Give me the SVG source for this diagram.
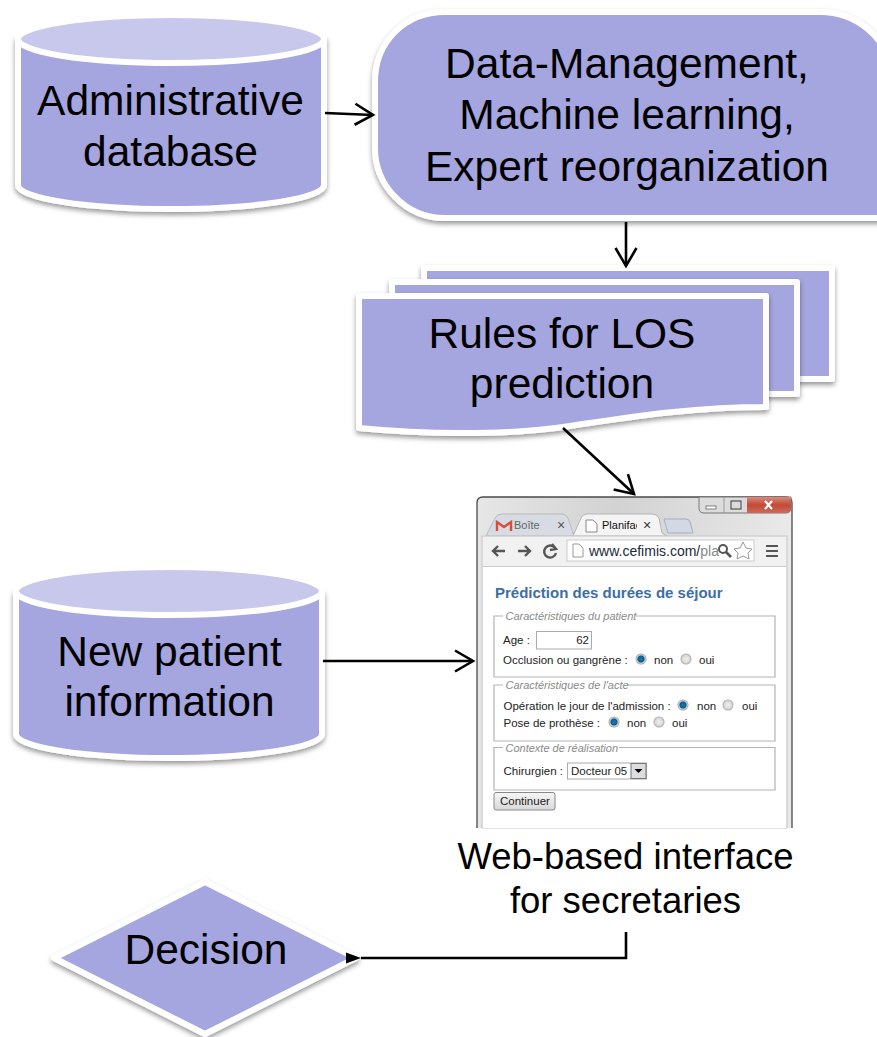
<svg xmlns="http://www.w3.org/2000/svg" width="877" height="1037" viewBox="0 0 877 1037">
<defs>
<filter id="sh" x="-10%" y="-10%" width="120%" height="125%"><feDropShadow dx="0" dy="3" stdDeviation="2.5" flood-color="#000" flood-opacity="0.4"/></filter>
<linearGradient id="chrome" x1="0" y1="0" x2="1" y2="0"><stop offset="0" stop-color="#e6e6e6"/><stop offset="0.45" stop-color="#d2d2d2"/><stop offset="1" stop-color="#e9e9e9"/></linearGradient>
<linearGradient id="closeb" x1="0" y1="0" x2="0" y2="1"><stop offset="0" stop-color="#d98a7c"/><stop offset="0.5" stop-color="#c24a36"/><stop offset="1" stop-color="#cf6a58"/></linearGradient>
<linearGradient id="btn" x1="0" y1="0" x2="0" y2="1"><stop offset="0" stop-color="#f6f6f6"/><stop offset="1" stop-color="#d8d8d8"/></linearGradient>
<radialGradient id="radOn"><stop offset="0" stop-color="#1d7db5"/><stop offset="0.55" stop-color="#0f5a88"/><stop offset="0.75" stop-color="#c9d6de"/><stop offset="1" stop-color="#9a9a9a"/></radialGradient>
<radialGradient id="radOff"><stop offset="0" stop-color="#f0f0f0"/><stop offset="0.7" stop-color="#d8d8d8"/><stop offset="1" stop-color="#a4a4a4"/></radialGradient>
<marker id="open" markerUnits="userSpaceOnUse" markerWidth="26" markerHeight="26" refX="20" refY="13" orient="auto"><path d="M2 2.5L20 13L2 23.5" fill="none" stroke="#000" stroke-width="2.6"/></marker>
<marker id="solid" markerUnits="userSpaceOnUse" markerWidth="20" markerHeight="16" refX="1" refY="8" orient="auto"><path d="M1 8L16 2.5V13.5Z" fill="#000"/></marker>
</defs>
<style>
.shape{fill:#a5a5df;stroke:#fff;stroke-width:6;stroke-linejoin:round;filter:url(#sh)}
.top{fill:#c8c8ec;stroke:#fff;stroke-width:6}
.big{font-family:"Liberation Sans",Arial,sans-serif;font-size:42.5px;fill:#000;text-anchor:middle}
.cap{font-family:"Liberation Sans",Arial,sans-serif;font-size:36.5px;fill:#000;text-anchor:middle}
.ui{font-family:"Liberation Sans",Arial,sans-serif;font-size:11.5px;fill:#222}
.leg{font-family:"Liberation Sans",Arial,sans-serif;font-size:11px;font-style:italic;fill:#8a8a8a}
.fs{fill:none;stroke:#b4b4b4;stroke-width:1.2}
.conn{fill:none;stroke:#000;stroke-width:2.6}
.glyph{fill:none;stroke:#555;stroke-width:2.4}
</style>

<g id="node-admin-db">
<path class="shape" d="M18 39V185C18 198 86 209 171 209S324 198 324 185V39Z"/>
<ellipse class="top" cx="171" cy="39" rx="153" ry="24"/>
<text class="big" x="170.500" y="115">Administrative</text>
<text class="big" x="170.500" y="166">database</text>
</g>

<g id="node-processing">
<path class="shape" d="M445 12H820C860 12 882 40 890 60V218H445C405 218 375 185 375 148V82C375 42 405 12 445 12Z"/>
<text class="big" x="627" y="78">Data-Management,</text>
<text class="big" x="627" y="129">Machine learning,</text>
<text class="big" x="627" y="181">Expert reorganization</text>
</g>

<g id="node-rules">
<rect class="shape" x="424" y="268" width="408" height="111"/>
<rect class="shape" x="392" y="282" width="405" height="112"/>
<path class="shape" d="M359 296H766V407C690 407 625 418 570 426C520 434 440 436 359 428Z"/>
<text class="big" x="562" y="348">Rules for LOS</text>
<text class="big" x="562" y="398">prediction</text>
</g>

<g id="node-interface">
<path d="M477 828V503Q477 497 483 497H786Q792 497 792 503V828" fill="url(#chrome)" stroke="#4a4a4a" stroke-width="1.3"/>
<path d="M699 497V508Q699 513 704 513H786Q791 513 791 508V497Z" fill="#dcdcdc" stroke="#777" stroke-width="1"/>
<path d="M747 497H791V508Q791 513 786 513H747Z" fill="url(#closeb)"/>
<path d="M724 497V513" stroke="#999"/>
<rect x="706" y="506" width="10" height="3" fill="#fff" stroke="#666" stroke-width="0.8"/>
<rect x="731" y="501" width="10" height="8" fill="none" stroke="#555" stroke-width="1.2"/>
<path d="M765 501L772 509M772 501L765 509" stroke="#fff" stroke-width="2.2"/>
<path d="M486 536L495 518Q497 514 502 514H562Q566 514 568 518L574 536Z" fill="#d6dbe4" stroke="#bbb" stroke-width="1"/>
<path d="M667 536L662 533L659 518Q657 514 652 514H587Q583 514 581 518L573 536Z" fill="#f4f4f4" stroke="#b5b5b5" stroke-width="1"/>
<path d="M668 533L664 519H686Q689 519 690 522L693 533Z" fill="#d3d9e4" stroke="#aab" stroke-width="1"/>
<path d="M497 531V522L504 527L511 522V531" fill="none" stroke="#dd4b39" stroke-width="2.4"/>
<text class="ui" x="514" y="529" style="font-size:11px;fill:#666">Boîte de</text>
<rect x="542" y="518" width="14" height="15" fill="#d6dbe4"/>
<text class="ui" x="557" y="530" style="font-size:14px;fill:#555" >×</text>
<path d="M586 520H593L597 524V532H586Z" fill="#fff" stroke="#888"/>
<text class="ui" x="602" y="529" style="font-size:11px;fill:#111">Planifac</text>
<rect x="637" y="518" width="6" height="15" fill="#f4f4f4"/>
<text class="ui" x="643" y="530" style="font-size:14px;fill:#333">×</text>
<rect x="482" y="536" width="305" height="292" fill="#ececec" stroke="#c8c8c8"/>
<rect x="483" y="537" width="303" height="29" fill="#f1f1f1"/>
<path class="glyph" d="M505 551H493M498 546L493 551L498 556"/>
<path class="glyph" d="M518 551H530M525 546L530 551L525 556"/>
<path class="glyph" d="M555 548A6 6 0 1 0 556 553M552 544L556 549L550 550"/>
<rect x="567" y="540" width="187" height="21" fill="#fff" stroke="#ccc"/>
<path d="M573 544H579L583 548V557H573Z" fill="#fff" stroke="#999"/>
<text class="ui" x="589" y="556" style="font-size:14px;fill:#1a2a3a">www.cefimis.com/<tspan fill="#888">pla</tspan></text>
<circle cx="723" cy="549" r="4" fill="none" stroke="#555" stroke-width="2"/>
<path d="M726 552L731 557" stroke="#555" stroke-width="2.6"/>
<path d="M743 542L746 548L752 549L748 553L749 559L743 556L737 559L738 553L734 549L740 548Z" fill="#fff" stroke="#999"/>
<path d="M766 546H778M766 551H778M766 556H778" stroke="#555" stroke-width="2.2"/>
<rect x="483" y="567" width="303" height="261" fill="#fff"/>
<path d="M483 566.500H786" stroke="#ccc"/>
<text x="495" y="598" style="font-family:'Liberation Sans',Arial,sans-serif;font-size:15px;font-weight:bold;fill:#3c6ea5">Prédiction des durées de séjour</text>
<path class="fs" d="M503 616H494V677H775V616H636"/>
<path class="fs" d="M503 685H494V741H775V685H627"/>
<path class="fs" d="M503 747.500H494V790H775V747.500H619"/>
<text class="leg" x="505.500" y="620">Caractéristiques du patient</text>
<text class="leg" x="505.500" y="689">Caractéristiques de l'acte</text>
<text class="leg" x="505.500" y="752">Contexte de réalisation</text>
<text class="ui" x="503" y="644">Age :</text>
<rect x="536.500" y="631.500" width="55" height="17.500" fill="#fff" stroke="#aaa"/>
<text class="ui" x="589" y="644" text-anchor="end">62</text>
<text class="ui" x="503" y="664">Occlusion ou gangrène :</text>
<circle cx="641" cy="659" r="5.500" fill="url(#radOn)"/>
<text class="ui" x="654" y="664">non</text>
<circle cx="686" cy="659" r="5.500" fill="url(#radOff)"/>
<text class="ui" x="699" y="664">oui</text>
<text class="ui" x="503.500" y="710">Opération le jour de l'admission :</text>
<circle cx="683" cy="705" r="5.500" fill="url(#radOn)"/>
<text class="ui" x="697" y="710">non</text>
<circle cx="728" cy="705" r="5.500" fill="url(#radOff)"/>
<text class="ui" x="742" y="710">oui</text>
<text class="ui" x="503.500" y="727">Pose de prothèse :</text>
<circle cx="614" cy="722" r="5.500" fill="url(#radOn)"/>
<text class="ui" x="627" y="727">non</text>
<circle cx="659" cy="722" r="5.500" fill="url(#radOff)"/>
<text class="ui" x="672" y="727">oui</text>
<text class="ui" x="503.500" y="775">Chirurgien :</text>
<rect x="567.500" y="763" width="79" height="16" fill="#fff" stroke="#aaa"/>
<text class="ui" x="571" y="775">Docteur 05</text>
<rect x="631" y="763.500" width="15" height="15" fill="#ddd" stroke="#777"/>
<path d="M634.500 769H642.500L638.500 773Z" fill="#000"/>
<rect x="494" y="792.500" width="61" height="17.500" rx="2" fill="url(#btn)" stroke="#888"/>
<text class="ui" x="500" y="805">Continuer</text>
</g>

<g id="node-new-patient">
<path class="shape" d="M16 593V734C16 747 84 758 169 758S322 747 322 734V593Z"/>
<ellipse class="top" cx="169" cy="591" rx="153" ry="24"/>
<text class="big" x="169.500" y="666">New patient</text>
<text class="big" x="169.500" y="716">information</text>
</g>

<g id="node-caption">
<text class="cap" x="625.500" y="869">Web-based interface</text>
<text class="cap" x="625.500" y="913">for secretaries</text>
</g>

<g id="node-decision">
<path class="shape" d="M205 882L356 958L205 1034L54 958Z"/>
<text class="big" x="206" y="964">Decision</text>
</g>

<g id="connectors">
<path class="conn" marker-end="url(#open)" d="M325 113L373 115"/>
<path class="conn" marker-end="url(#open)" d="M626 222V266"/>
<path class="conn" marker-end="url(#open)" d="M563 428L634 494"/>
<path class="conn" marker-end="url(#open)" d="M323 661H473"/>
<path class="conn" marker-end="url(#solid)" d="M626 932V958H361"/>
</g>
</svg>
